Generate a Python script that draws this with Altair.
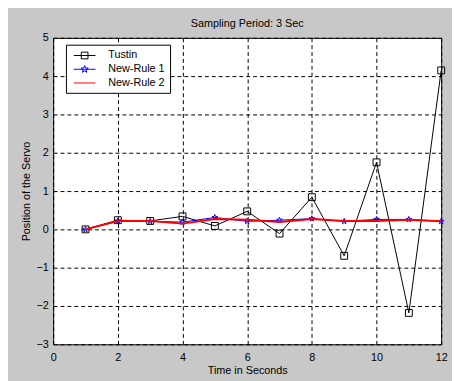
import math
import altair as alt
import pandas as pd

# ---- data ----
time_s = [1, 2, 3, 4, 5, 6, 7, 8, 9, 10, 11, 12]
tustin = [0.0, 0.24, 0.22, 0.34, 0.09, 0.47, -0.11, 0.84, -0.69, 1.75, -2.18, 4.15]
new_rule_1 = [0.0, 0.22, 0.21, 0.19, 0.31, 0.21, 0.24, 0.28, 0.21, 0.26, 0.26, 0.21]
new_rule_2 = [0.0, 0.22, 0.22, 0.15, 0.27, 0.25, 0.19, 0.27, 0.22, 0.22, 0.25, 0.21]
series_names = ["Tustin", "New-Rule 1", "New-Rule 2"]
series_colors = ["#000000", "#0000ff", "#ff0000"]
x_ticks = [0, 2, 4, 6, 8, 10, 12]
y_ticks = [-3, -2, -1, 0, 1, 2, 3, 4, 5]

FONT = "Liberation Sans"
BG = "#c8c8c8"

rows = []
for name, vals in zip(series_names, [tustin, new_rule_1, new_rule_2]):
    for t, v in zip(time_s, vals):
        rows.append({"t": t, "v": v, "series": name})
df = pd.DataFrame(rows)

# star path (unit coordinates)
pts = []
for i in range(10):
    a = -math.pi / 2 + i * math.pi / 5
    r = 1.0 if i % 2 == 0 else 0.42
    pts.append((r * math.cos(a), r * math.sin(a)))
star_path = "M" + "L".join(f"{px:.3f},{py:.3f}" for px, py in pts) + "Z"
star_small = "M" + "L".join(f"{px*0.7:.3f},{py*0.7:.3f}" for px, py in pts) + "Z"

legend_paths = [
    "M-2,0H2M-0.62,-0.62H0.62V0.62H-0.62Z",
    "M-2,0H2" + star_small,
    "M-2,0H2",
]

x_scale = alt.Scale(domain=[0, 12], nice=False, zero=False)
y_scale = alt.Scale(domain=[-3, 5], nice=False, zero=False)

x_axis = alt.Axis(values=x_ticks, title="Time in Seconds", grid=True, gridDash=[4, 3],
                  gridColor="black", gridOpacity=1, domain=False, ticks=False,
                  labelFont=FONT, labelFontSize=11, labelColor="black", labelPadding=7,
                  titleFont=FONT, titleFontSize=11, titleFontWeight="normal",
                  titleColor="black", titlePadding=3, labelFlush=False)
y_axis = alt.Axis(values=y_ticks, title="Position of the Servo", grid=True, gridDash=[4, 3],
                  gridColor="black", gridOpacity=1, domain=False, ticks=False,
                  labelFont=FONT, labelFontSize=11, labelColor="black", labelPadding=5,
                  titleFont=FONT, titleFontSize=11, titleFontWeight="normal",
                  titleColor="black", titlePadding=5, labelFlush=False)

base = alt.Chart(df)
X = alt.X("t:Q", scale=x_scale, axis=x_axis)
Y = alt.Y("v:Q", scale=y_scale, axis=y_axis)

def sub(name):
    return base.transform_filter(alt.datum.series == name)

tustin_line = sub("Tustin").mark_line(color="black", strokeWidth=1).encode(x=X, y=Y)
tustin_pts = sub("Tustin").mark_point(shape="square", size=49, filled=False,
                                       color="black", strokeWidth=1, opacity=1).encode(x=X, y=Y)
nr1_line = sub("New-Rule 1").mark_line(color="#0000ff", strokeWidth=1).encode(x=X, y=Y)
nr1_pts = sub("New-Rule 1").mark_point(shape=star_path, size=36, filled=False,
                                        color="#0000ff", strokeWidth=1, opacity=1).encode(x=X, y=Y)
nr2_line = sub("New-Rule 2").mark_line(color="#ff0000", strokeWidth=2).encode(x=X, y=Y)

legend_layer = base.transform_filter(alt.datum.t == 1).mark_point(
    filled=False, opacity=0, size=121
).encode(
    x=X, y=Y,
    color=alt.Color("series:N", scale=alt.Scale(domain=series_names, range=series_colors),
                    legend=alt.Legend(title=None, orient="none", legendX=13, legendY=7,
                                      fillColor="white", strokeColor="black", padding=5,
                                      symbolOpacity=1, symbolSize=121, symbolStrokeWidth=1,
                                      symbolOffset=8, labelOffset=18, rowPadding=2,
                                      labelFont=FONT, labelFontSize=11, labelColor="black",
                                      labelExpr="datum.label + '  '")),
    shape=alt.Shape("series:N", scale=alt.Scale(domain=series_names, range=legend_paths)),
)

chart = alt.layer(tustin_line, tustin_pts, nr1_line, nr1_pts, nr2_line, legend_layer).properties(
    width=395, height=312,
    title=alt.TitleParams("Sampling Period: 3 Sec", font=FONT, fontSize=11,
                          fontWeight="normal", color="black", anchor="middle", offset=3),
    padding={"left": 46, "top": 27, "right": 11, "bottom": 34},
    autosize=alt.AutoSizeParams(type="none"),
    background=BG,
).configure_view(fill="white", stroke="black", strokeWidth=1)

chart.save("out.html", embed_options={"renderer": "svg", "actions": False})
